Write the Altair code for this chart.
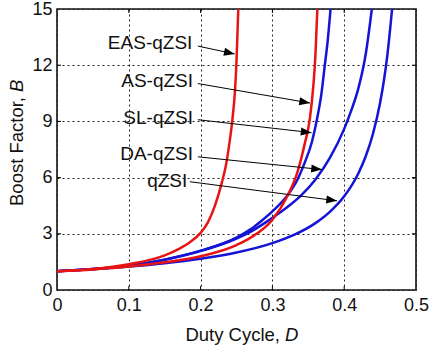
import math
import altair as alt
import pandas as pd

# Boost factor B against duty cycle D for each inverter topology
qzsi_d = [0, 0.05, 0.1, 0.15, 0.2, 0.25, 0.3, 0.33, 0.36, 0.38, 0.4, 0.42, 0.43, 0.44, 0.45, 0.455, 0.46, 0.4667]
qzsi_b = [1, 1.11, 1.25, 1.43, 1.67, 2.0, 2.5, 2.94, 3.57, 4.17, 5.0, 6.25, 7.14, 8.33, 10.0, 11.1, 12.5, 15]

da_d = [0, 0.05, 0.1, 0.15, 0.2, 0.25, 0.27, 0.3, 0.32, 0.34, 0.36, 0.38, 0.40, 0.41, 0.42, 0.43, 0.4385]
da_b = [1, 1.12, 1.3, 1.62, 2.08, 2.75, 3.12, 3.85, 4.4, 5.05, 5.9, 7.05, 8.6, 9.6, 10.8, 12.6, 15]

sl_d = [0, 0.05, 0.1, 0.15, 0.2, 0.25, 0.27, 0.285, 0.3, 0.32, 0.335, 0.345, 0.355, 0.362, 0.368, 0.373, 0.377, 0.381]
sl_b = [1, 1.12, 1.3, 1.62, 2.1, 2.8, 3.25, 3.7, 4.2, 5.0, 5.9, 6.8, 7.9, 9.1, 10.4, 12.0, 13.3, 15]

as_d = [0, 0.05, 0.1, 0.15, 0.2, 0.25, 0.27, 0.3, 0.32, 0.335, 0.345, 0.352, 0.357, 0.36, 0.3626]
as_b = [1, 1.1, 1.25, 1.48, 1.8, 2.4, 2.8, 3.75, 4.95, 6.3, 7.8, 9.1, 10.9, 12.6, 15]

eas_d = [0, 0.05, 0.1, 0.15, 0.17, 0.185, 0.2, 0.21, 0.22, 0.23, 0.235, 0.24, 0.244, 0.248, 0.25, 0.2525]
eas_b = [1, 1.12, 1.38, 1.85, 2.2, 2.55, 3.05, 3.6, 4.5, 5.8, 6.6, 7.8, 9.0, 10.7, 12.2, 15]

series = ["qZSI", "DA-qZSI", "SL-qZSI", "AS-qZSI", "EAS-qZSI"]
series_colors = ["#1414d6", "#1414d6", "#1414d6", "#e81414", "#e81414"]

# Curve labels and their pointer arrows
label_text = ["EAS-qZSI", "AS-qZSI", "SL-qZSI", "DA-qZSI", "qZSI"]
label_d = [0.1885, 0.1895, 0.1895, 0.1895, 0.1815]
label_b = [13.2, 11.18, 9.2, 7.27, 5.8]
arrow_d0 = [0.1962, 0.1962, 0.1962, 0.1962, 0.1851]
arrow_b0 = [13.02, 11.02, 9.09, 7.11, 5.78]
arrow_d1 = [0.2475, 0.3524, 0.3545, 0.369, 0.390]
arrow_b1 = [12.6, 9.98, 8.40, 6.43, 4.76]

x_ticks = [0, 0.1, 0.2, 0.3, 0.4, 0.5]
y_ticks = [0, 3, 6, 9, 12, 15]

W, H = 359, 281
FONT = "Liberation Sans"

rows = []
for name, ds, bs in zip(series, [qzsi_d, da_d, sl_d, as_d, eas_d],
                        [qzsi_b, da_b, sl_b, as_b, eas_b]):
    for d, b in zip(ds, bs):
        rows.append({"name": name, "D": d, "B": b})
curves = pd.DataFrame(rows)

# arrow direction in screen space, for rotating the heads
angles = []
for d0, b0, d1, b1 in zip(arrow_d0, arrow_b0, arrow_d1, arrow_b1):
    dx = (d1 - d0) * W / 0.5
    dy = -(b1 - b0) * H / 15
    angles.append(math.degrees(math.atan2(dy, dx)))

ann = pd.DataFrame({
    "label": label_text, "ld": label_d, "lb": label_b,
    "d0": arrow_d0, "b0": arrow_b0, "d1": arrow_d1, "b1": arrow_b1,
    "angle": angles,
})

x_scale = alt.Scale(domain=[0, 0.5], nice=False, zero=False)
y_scale = alt.Scale(domain=[0, 15], nice=False, zero=False)
x_axis = alt.Axis(values=x_ticks, title=None, labelFlush=False, labelOverlap=False,
                  labelExpr="datum.value === 0 ? '0' : format(datum.value, '.1f')",
                  labelPadding=6)
y_axis = alt.Axis(values=y_ticks, title=None, labelFlush=False, labelOverlap=False,
                  format="d", labelPadding=5)

lines = alt.Chart(curves).mark_line(strokeWidth=2.5, interpolate="monotone", clip=True).encode(
    x=alt.X("D:Q", scale=x_scale, axis=x_axis),
    y=alt.Y("B:Q", scale=y_scale, axis=y_axis),
    color=alt.Color("name:N", scale=alt.Scale(domain=series, range=series_colors), legend=None),
    order=alt.Order("D:Q"),
)

# inward tick marks on all four sides
xt = pd.DataFrame({"D": x_ticks[1:-1]})
yt = pd.DataFrame({"B": y_ticks[1:-1]})
tick_style = dict(color="black", strokeWidth=1)
ticks_bottom = alt.Chart(xt).mark_rule(**tick_style).encode(
    x=alt.X("D:Q", scale=x_scale, axis=x_axis), y=alt.value(H), y2=alt.value(H - 4))
ticks_top = alt.Chart(xt).mark_rule(**tick_style).encode(
    x=alt.X("D:Q", scale=x_scale, axis=x_axis), y=alt.value(0), y2=alt.value(4))
ticks_left = alt.Chart(yt).mark_rule(**tick_style).encode(
    y=alt.Y("B:Q", scale=y_scale, axis=y_axis), x=alt.value(0), x2=alt.value(4))
ticks_right = alt.Chart(yt).mark_rule(**tick_style).encode(
    y=alt.Y("B:Q", scale=y_scale, axis=y_axis), x=alt.value(W - 4), x2=alt.value(W))

shafts = alt.Chart(ann).mark_rule(color="black", strokeWidth=1).encode(
    x=alt.X("d0:Q", scale=x_scale, axis=x_axis), y=alt.Y("b0:Q", scale=y_scale, axis=y_axis),
    x2="d1:Q", y2="b1:Q")
heads = alt.Chart(ann).mark_point(
    shape="M0,0L-2,-0.75L-2,0.75Z", filled=True, color="black", opacity=1, size=115
).encode(
    x=alt.X("d1:Q", scale=x_scale, axis=x_axis), y=alt.Y("b1:Q", scale=y_scale, axis=y_axis),
    angle=alt.Angle("angle:Q", scale=None))
labels = alt.Chart(ann).mark_text(
    align="right", baseline="middle", font=FONT, fontSize=19, color="#111"
).encode(
    x=alt.X("ld:Q", scale=x_scale, axis=x_axis), y=alt.Y("lb:Q", scale=y_scale, axis=y_axis),
    text="label:N")

# axis titles with italic symbols
one = pd.DataFrame({"k": [0]})
xtitle = alt.Chart(one).mark_text(
    text="Duty Cycle,", align="right", baseline="middle", font=FONT, fontSize=18.5, color="#111"
).encode(x=alt.value(223), y=alt.value(326))
xtitle_sym = alt.Chart(one).mark_text(
    text="D", align="left", baseline="middle", font=FONT, fontSize=18.5, fontStyle="italic", color="#111"
).encode(x=alt.value(228), y=alt.value(326))
ytitle = alt.Chart(one).mark_text(
    text="Boost Factor,", align="right", baseline="middle", angle=270, font=FONT, fontSize=18.5, color="#111"
).encode(x=alt.value(-40), y=alt.value(88))
ytitle_sym = alt.Chart(one).mark_text(
    text="B", align="left", baseline="middle", angle=270, font=FONT, fontSize=18.5, fontStyle="italic", color="#111"
).encode(x=alt.value(-40), y=alt.value(83))

chart = alt.layer(
    lines, ticks_bottom, ticks_top, ticks_left, ticks_right,
    shafts, heads, labels, xtitle, xtitle_sym, ytitle, ytitle_sym,
).properties(
    width=W, height=H,
    autosize=alt.AutoSizeParams(type="none"),
    padding={"left": 57, "top": 9, "right": 14, "bottom": 60},
    background="white",
).configure_view(
    stroke="#111", strokeWidth=1.6,
).configure_axis(
    domain=False, ticks=False, tickSize=0,
    grid=True, gridColor="#222", gridDash=[2, 3], gridWidth=1, gridOpacity=1,
    labelFont=FONT, labelFontSize=18, labelColor="#111",
)

chart.save("out.html", embed_options={"renderer": "svg", "actions": False})
